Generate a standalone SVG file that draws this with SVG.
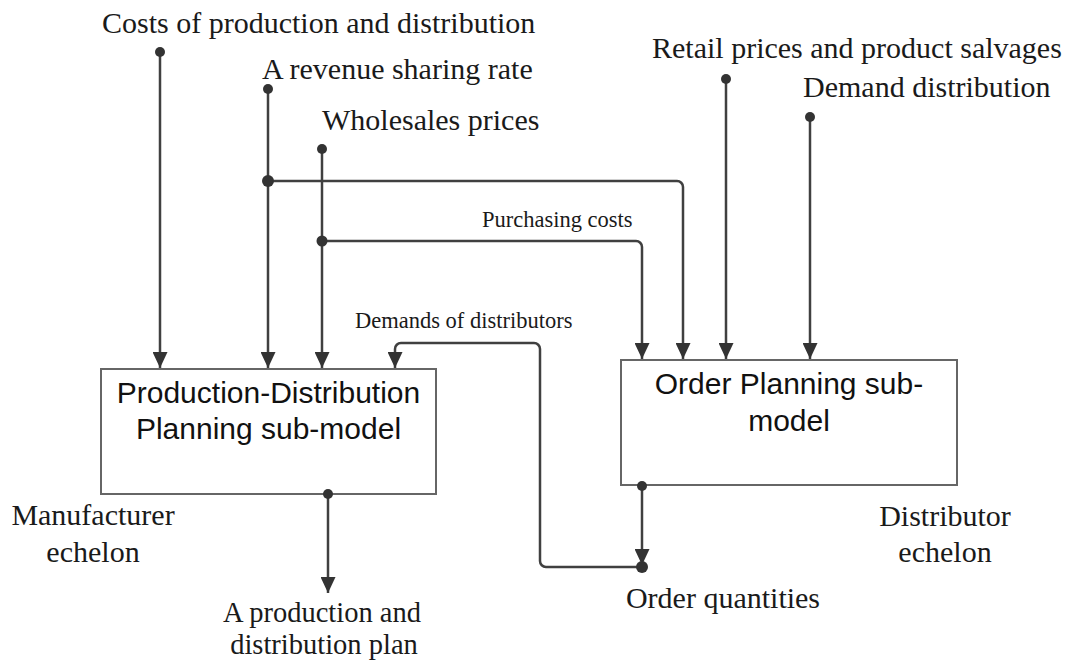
<svg xmlns="http://www.w3.org/2000/svg" width="1073" height="661" viewBox="0 0 1073 661">
<style>
.lbl{font-family:"Liberation Serif","Times New Roman",serif;font-size:30px;fill:#1a1a1a}
.lbl2{font-family:"Liberation Serif","Times New Roman",serif;font-size:28.5px;fill:#1a1a1a}
.sm{font-family:"Liberation Serif","Times New Roman",serif;font-size:22.5px;fill:#1a1a1a}
.bx{font-family:"Liberation Sans",Arial,sans-serif;font-size:30px;fill:#111}
.box{fill:#fff;stroke:#666;stroke-width:2}
.ln{fill:none;stroke:#404040;stroke-width:2.5}
.dot{fill:#333}
</style>
<defs>
<marker id="ah" viewBox="0 0 16 15" refX="16" refY="7.5" markerWidth="16" markerHeight="15" markerUnits="userSpaceOnUse" orient="auto">
<path d="M0,0 L16,7.5 L0,15 z" fill="#333"/>
</marker>
</defs>
<rect width="1073" height="661" fill="#fff"/>
<g id="pd-model">
<rect class="box" x="101" y="369" width="335" height="125"/>
<text class="bx" x="268.5" y="403" text-anchor="middle">Production-Distribution</text>
<text class="bx" x="268.5" y="439" text-anchor="middle">Planning sub-model</text>
</g>
<g id="op-model">
<rect class="box" x="621" y="360" width="336" height="125"/>
<text class="bx" x="789" y="394" text-anchor="middle">Order Planning sub-</text>
<text class="bx" x="789" y="431" text-anchor="middle">model</text>
</g>
<g id="labels">
<text class="lbl" x="102" y="33">Costs of production and distribution</text>
<text class="lbl" x="262" y="79">A revenue sharing rate</text>
<text class="lbl" x="322" y="130">Wholesales prices</text>
<text class="lbl" x="652" y="58">Retail prices and product salvages</text>
<text class="lbl" x="803" y="97">Demand distribution</text>
<text class="sm" x="482" y="227">Purchasing costs</text>
<text class="sm" x="355" y="328">Demands of distributors</text>
<text class="lbl" x="93" y="525" text-anchor="middle">Manufacturer</text>
<text class="lbl" x="93" y="562" text-anchor="middle">echelon</text>
<text class="lbl" x="945" y="526" text-anchor="middle">Distributor</text>
<text class="lbl" x="945" y="562" text-anchor="middle">echelon</text>
<text class="lbl" x="723" y="608" text-anchor="middle">Order quantities</text>
<text class="lbl2" x="322" y="622" text-anchor="middle">A production and</text>
<text class="lbl2" x="324" y="654" text-anchor="middle">distribution plan</text>
</g>
<g id="connectors">
<path class="ln" d="M160,52 V368" marker-end="url(#ah)"/>
<path class="ln" d="M268,89 V368" marker-end="url(#ah)"/>
<path class="ln" d="M322,149 V368" marker-end="url(#ah)"/>
<path class="ln" d="M268,181 H677 A6,6 0 0 1 683,187 V359" marker-end="url(#ah)"/>
<path class="ln" d="M322,241 H636 A6,6 0 0 1 642,247 V359" marker-end="url(#ah)"/>
<path class="ln" d="M726,79 V359" marker-end="url(#ah)"/>
<path class="ln" d="M810,117 V359" marker-end="url(#ah)"/>
<path class="ln" d="M642,486 V565" marker-end="url(#ah)"/>
<path class="ln" d="M642,567 H546 A6,6 0 0 1 540,561 V349 A6,6 0 0 0 534,343 H401 A6,6 0 0 0 395,349 V368" marker-end="url(#ah)"/>
<path class="ln" d="M328,494 V593" marker-end="url(#ah)"/>
<circle class="dot" cx="160" cy="52" r="5"/>
<circle class="dot" cx="268" cy="89" r="5"/>
<circle class="dot" cx="322" cy="149" r="5"/>
<circle class="dot" cx="268" cy="181" r="6"/>
<circle class="dot" cx="322" cy="241" r="5.5"/>
<circle class="dot" cx="726" cy="79" r="5"/>
<circle class="dot" cx="810" cy="117" r="5"/>
<circle class="dot" cx="642" cy="486" r="5"/>
<circle class="dot" cx="642" cy="567" r="6"/>
<circle class="dot" cx="328" cy="494" r="5"/>
</g>
</svg>
